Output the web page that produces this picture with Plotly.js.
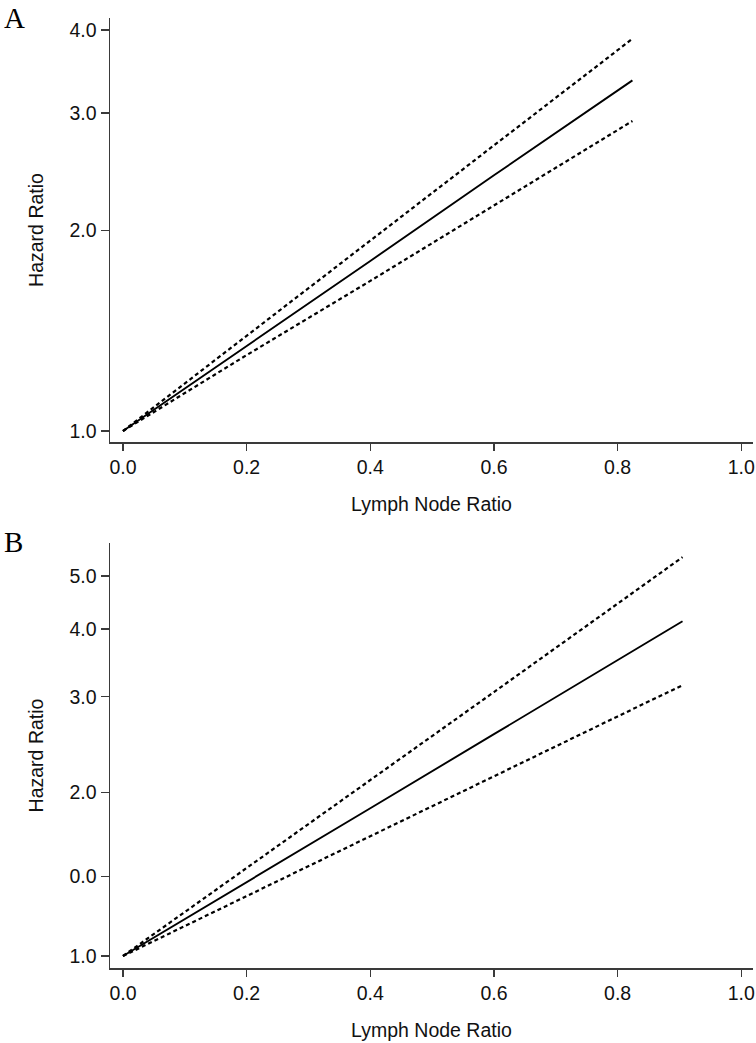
<!DOCTYPE html>
<html>
<head>
<meta charset="utf-8">
<script src="https://cdn.plot.ly/plotly-3.0.1.min.js"></script>
<style>
  html, body { margin: 0; padding: 0; background: #fff; }
  #chart { width: 756px; height: 1043px; }
</style>
</head>
<body>
<div id="chart"></div>
<script>
// Panel A: lymph node ratio vs hazard ratio (estimate + 95% CI)
const lnrA = [0, 0.2, 0.4, 0.6, 0.8, 0.824];
const hrA = [1.0, 1.34, 1.8, 2.42, 3.25, 3.36];
const upperA = [1.0, 1.39, 1.93, 2.68, 3.73, 3.88];
const lowerA = [1.0, 1.3, 1.68, 2.18, 2.83, 2.92];

// Panel B
const lnrB = [0, 0.2, 0.4, 0.6, 0.8, 0.905];
const hrB = [1.0, 1.37, 1.87, 2.56, 3.51, 4.13];
const upperB = [1.0, 1.45, 2.11, 3.06, 4.45, 5.42];
const lowerB = [1.0, 1.29, 1.66, 2.14, 2.76, 3.15];

const xTicks = [0, 0.2, 0.4, 0.6, 0.8, 1.0];
const xTickText = ["0.0", "0.2", "0.4", "0.6", "0.8", "1.0"];
const yTicksA = [1, 2, 3, 4];
const yTickTextA = ["1.0", "2.0", "3.0", "4.0"];
const yTicksB = [1, 1.4, 2, 3, 4, 5];
const yTickTextB = ["1.0", "0.0", "2.0", "3.0", "4.0", "5.0"];

const W = 756;
const H = 1043;
const AXIS_COLOR = "#3a3a3a";
const FONT = "Liberation Sans, Arial, sans-serif";
const FS = 19.5;

const line = (x, y, xa, ya, dashed) => ({
  x,
  y,
  xaxis: xa,
  yaxis: ya,
  mode: "lines",
  line: { color: "#000", width: dashed ? 2.2 : 1.9, dash: dashed ? "4px,3px" : "solid" },
  hoverinfo: "skip",
  showlegend: false,
});

const traces = [
  line(lnrA, upperA, "x", "y", true),
  line(lnrA, lowerA, "x", "y", true),
  line(lnrA, hrA, "x", "y", false),
  line(lnrB, upperB, "x2", "y2", true),
  line(lnrB, lowerB, "x2", "y2", true),
  line(lnrB, hrB, "x2", "y2", false),
];

const xDomain = [110 / W, 753 / W];

const xAxis = (anchor) => ({
  anchor,
  domain: xDomain,
  range: [-0.021, 1.019],
  tickvals: xTicks,
  ticktext: xTickText,
  ticks: "outside",
  ticklen: 7,
  tickwidth: 1.5,
  tickcolor: AXIS_COLOR,
  showline: true,
  linecolor: AXIS_COLOR,
  linewidth: 1.5,
  showgrid: false,
  zeroline: false,
  tickfont: { family: FONT, size: FS, color: "#111" },
  title: {
    text: "Lymph Node Ratio",
    font: { family: FONT, size: FS, color: "#111" },
    standoff: 20,
  },
});

const yAxis = (anchor, domain, range, vals, text) => ({
  anchor,
  domain,
  type: "log",
  range,
  tickvals: vals,
  ticktext: text,
  ticks: "outside",
  ticklen: 8,
  tickwidth: 1.5,
  tickcolor: AXIS_COLOR,
  showline: true,
  linecolor: AXIS_COLOR,
  linewidth: 1.5,
  showgrid: false,
  zeroline: false,
  tickfont: { family: FONT, size: FS, color: "#111" },
  title: {
    text: "Hazard Ratio",
    font: { family: FONT, size: FS, color: "#111" },
    standoff: 20,
  },
});

const panelLabel = (text, yPx) => ({
  xref: "paper",
  yref: "paper",
  x: 2 / W,
  y: 1 - yPx / H,
  xanchor: "left",
  yanchor: "top",
  text,
  showarrow: false,
  font: { family: "Liberation Serif, Times New Roman, serif", size: 29, color: "#000" },
});

const layout = {
  width: W,
  height: H,
  margin: { l: 0, r: 0, t: 0, b: 0 },
  paper_bgcolor: "#fff",
  plot_bgcolor: "#fff",
  xaxis: xAxis("y"),
  yaxis: yAxis("x", [1 - 442 / H, 1 - 18 / H], [-0.0165, 0.62], yTicksA, yTickTextA),
  xaxis2: xAxis("y2"),
  yaxis2: yAxis("x2", [1 - 968 / H, 1 - 543 / H], [-0.0221, 0.76], yTicksB, yTickTextB),
  annotations: [panelLabel("A", 0), panelLabel("B", 524)],
};

Plotly.newPlot("chart", traces, layout, { displayModeBar: false, staticPlot: true });
</script>
</body>
</html>
